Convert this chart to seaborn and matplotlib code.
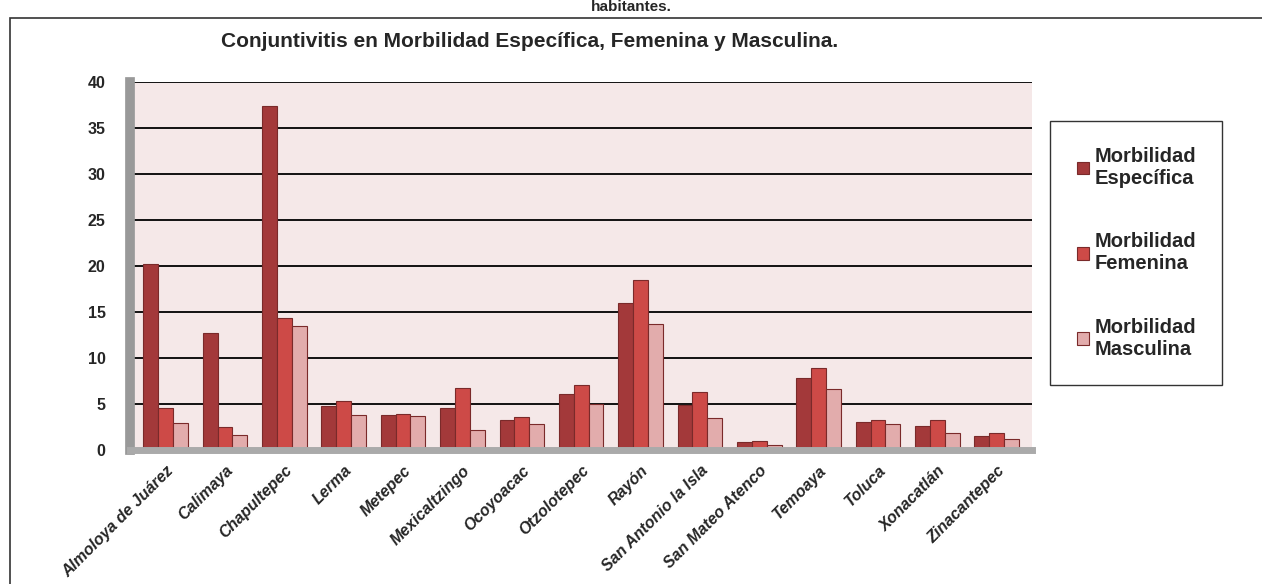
import matplotlib
matplotlib.use('Agg')
import matplotlib.pyplot as plt
from matplotlib.patches import Rectangle
import seaborn as sns
import pandas as pd

municipios = ['Almoloya de Juárez', 'Calimaya', 'Chapultepec', 'Lerma', 'Metepec',
              'Mexicaltzingo', 'Ocoyoacac', 'Otzolotepec', 'Rayón', 'San Antonio la Isla',
              'San Mateo Atenco', 'Temoaya', 'Toluca', 'Xonacatlán', 'Zinacantepec']
especifica = [20.2, 12.7, 37.4, 4.7, 3.8, 4.5, 3.2, 6.1, 16.0, 4.9, 0.8, 7.8, 3.0, 2.6, 1.5]
femenina   = [4.5, 2.5, 14.3, 5.3, 3.9, 6.7, 3.6, 7.0, 18.4, 6.3, 0.9, 8.9, 3.2, 3.2, 1.8]
masculina  = [2.9, 1.6, 13.4, 3.8, 3.7, 2.1, 2.8, 5.0, 13.7, 3.4, 0.5, 6.6, 2.8, 1.8, 1.2]
series = ['Morbilidad\nEspecífica', 'Morbilidad\nFemenina', 'Morbilidad\nMasculina']
colores = ['#a3393a', '#cd4a47', '#e2acac']

df = pd.DataFrame({
    'Municipio': municipios * 3,
    'Serie': [series[0]] * 15 + [series[1]] * 15 + [series[2]] * 15,
    'Valor': especifica + femenina + masculina,
})

sns.set_style('white')
plt.rcParams['font.family'] = ['Liberation Sans', 'DejaVu Sans']

fig = plt.figure(figsize=(12.62, 5.84), dpi=100)
ax = fig.add_axes([0.103, 0.23, 0.715, 0.63])

sns.barplot(data=df, x='Municipio', y='Valor', hue='Serie', palette=colores,
            saturation=1, width=0.75, edgecolor='#7a2a2a', linewidth=0.8, ax=ax)

ax.set_facecolor('#f5e8e8')
ax.set_ylim(0, 40)
ax.set_xlim(-0.6, 14.6)
ax.set_yticks(range(0, 41, 5))
ax.yaxis.grid(True, color='black', linewidth=1.3)
ax.set_axisbelow(True)
for s in ['top', 'right']:
    ax.spines[s].set_visible(False)
ax.spines['left'].set_color('#999999')
ax.spines['left'].set_linewidth(7)
ax.spines['bottom'].set_color('#aaaaaa')
ax.spines['bottom'].set_linewidth(5)
ax.set_xlabel('')
ax.set_ylabel('')
ax.tick_params(axis='y', labelsize=11.5, pad=14)
for t in ax.get_yticklabels():
    t.set_fontweight('bold')
ax.set_xticks(range(len(municipios)))
ax.set_xticklabels(municipios, rotation=45, ha='right', rotation_mode='anchor',
                   fontsize=11.5, fontweight='bold', fontstyle='italic')
ax.tick_params(axis='x', pad=6)

leg = ax.legend(loc='center left', bbox_to_anchor=(1.02, 0.535), frameon=True,
                fancybox=False, edgecolor='black', fontsize=14.5,
                labelspacing=2.2, handlelength=0.6, handleheight=0.6,
                handletextpad=0.3, borderpad=1.3, borderaxespad=0)
leg.get_frame().set_linewidth(1.0)
for t in leg.get_texts():
    t.set_fontweight('bold')

fig.suptitle('Conjuntivitis en Morbilidad Específica, Femenina y Masculina.',
             x=0.42, y=0.945, fontsize=15, fontweight='bold')
fig.text(0.5, 1.0, 'habitantes.', ha='center', va='top', fontsize=11, fontweight='bold')
fig.patches.append(Rectangle((0.008, -0.01), 1.1, 0.98, transform=fig.transFigure,
                             fill=False, edgecolor='#333333', linewidth=1.2))

fig.savefig('out.png', dpi=100)
